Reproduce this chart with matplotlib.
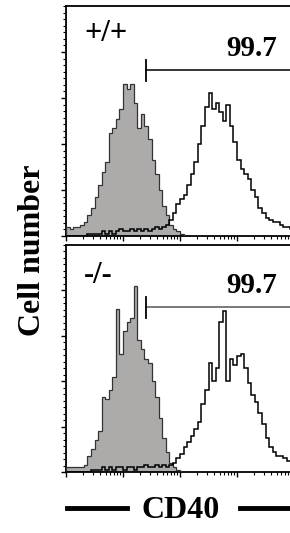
import numpy as np
import matplotlib
matplotlib.use("Agg")
import matplotlib.pyplot as plt
from matplotlib.ticker import AutoMinorLocator, LogLocator, NullFormatter
from matplotlib.lines import Line2D

plt.rcParams['font.family'] = ['Liberation Serif', 'DejaVu Serif']

# CD40 fluorescence, 4 log decades, 16 channels per decade
edges = np.logspace(0, 4, 65)

# +/+ : isotype control (shaded) and anti-CD40 (open)
wt_ctrl = [4, 3, 4, 4, 5, 6, 9, 12, 17, 22, 28, 32, 45, 47, 51, 55,
           66, 64, 66, 58, 47, 53, 48, 42, 33, 27, 20, 13, 9, 5, 3, 2,
           1, 0, 0, 0, 0, 0, 0, 0, 0, 0, 0, 0, 0, 0, 0, 0,
           0, 0, 0, 0, 0, 0, 0, 0, 0, 0, 0, 0, 0, 0, 0, 0]
wt_cd40 = [0, 0, 0, 0, 0, 0, 1, 1, 1, 1, 2, 1, 2, 1, 2, 3,
           2, 2, 3, 2, 3, 2, 3, 2, 3, 4, 3, 4, 5, 7, 10, 14,
           16, 18, 22, 27, 32, 40, 48, 56, 62, 55, 58, 54, 50, 57, 48, 41,
           33, 29, 27, 25, 20, 17, 12, 10, 8, 7, 6, 6, 5, 4, 4, 3]

# -/- : isotype control (shaded) and anti-CD40 (open)
ko_ctrl = [2, 2, 2, 2, 2, 3, 7, 10, 14, 18, 33, 32, 36, 42, 72, 52,
           62, 66, 68, 82, 58, 54, 50, 48, 40, 33, 24, 15, 9, 4, 2, 1,
           0, 0, 0, 0, 0, 0, 0, 0, 0, 0, 0, 0, 0, 0, 0, 0,
           0, 0, 0, 0, 0, 0, 0, 0, 0, 0, 0, 0, 0, 0, 0, 0]
ko_cd40 = [0, 0, 0, 0, 0, 0, 0, 1, 1, 1, 2, 1, 2, 1, 2, 2,
           1, 2, 2, 1, 2, 2, 3, 2, 2, 3, 2, 3, 2, 3, 4, 6,
           8, 11, 13, 16, 19, 22, 30, 36, 48, 40, 46, 66, 71, 40, 50, 47,
           51, 52, 46, 39, 34, 31, 26, 21, 15, 11, 9, 7, 7, 6, 5, 5]

genotypes = ["+/+", "-/-"]
percent = ["99.7", "99.7"]
gate_start = 10 ** 1.40
gate_level = [72, 72.5]

fig = plt.figure(figsize=(2.9, 5.33), dpi=100)
ax1 = fig.add_axes([66 / 290, 1 - 236 / 533, 228 / 290, 230 / 533])
ax2 = fig.add_axes([66 / 290, 1 - 472 / 533, 228 / 290, 227 / 533])

panels = [(ax1, wt_ctrl, wt_cd40), (ax2, ko_ctrl, ko_cd40)]
for k, (ax, ctrl, cd40) in enumerate(panels):
    ax.stairs(ctrl, edges, fill=True, color="#adaaaa", zorder=2)
    ax.stairs(ctrl, edges, color="#333333", lw=0.9, zorder=3)
    ax.stairs(cd40, edges, color="black", lw=1.1, zorder=4)

    ax.set_xscale("log")
    ax.set_xlim(1, 1e4)
    ax.set_ylim(0, 100)
    ax.xaxis.set_major_locator(LogLocator(base=10))
    ax.xaxis.set_minor_locator(LogLocator(base=10, subs=np.arange(2, 10)))
    ax.xaxis.set_major_formatter(NullFormatter())
    ax.xaxis.set_minor_formatter(NullFormatter())
    ax.set_yticks([0, 20, 40, 60, 80])
    ax.yaxis.set_minor_locator(AutoMinorLocator(7))
    ax.set_yticklabels([])
    ax.tick_params(axis="both", which="major", direction="out", length=3.5, width=1)
    ax.tick_params(axis="both", which="minor", direction="out", length=2, width=0.8)
    for s in ax.spines.values():
        s.set_linewidth(1.3)

    # gate marker
    lvl = gate_level[k]
    ax.plot([gate_start, 1e4], [lvl, lvl], color="black" if k == 0 else "#555555",
            lw=1.1, zorder=5)
    ax.plot([gate_start, gate_start], [lvl - 4.5, lvl + 4.5], color="black", lw=1.3, zorder=5)
    ax.text(10 ** 3.25, lvl + 3.5, percent[k], ha="center", va="bottom",
            fontsize=21, fontweight="bold")
    ax.text(10 ** 0.32, 88 - k * 1.5, genotypes[k], ha="left", va="center",
            fontsize=22, fontweight="bold")

fig.text(33 / 290, 1 - 250 / 533, "Cell number", rotation=90, ha="center",
         va="center", fontsize=23, fontweight="bold")
fig.text(181 / 290, 1 - 510 / 533, "CD40", ha="center", va="center",
         fontsize=23, fontweight="bold")
fig.add_artist(Line2D([67 / 290, 127 / 290], [1 - 508 / 533] * 2, color="black", lw=3.5))
fig.add_artist(Line2D([240 / 290, 1.0], [1 - 508 / 533] * 2, color="black", lw=3.5))

fig.savefig("out.png", dpi=100)
